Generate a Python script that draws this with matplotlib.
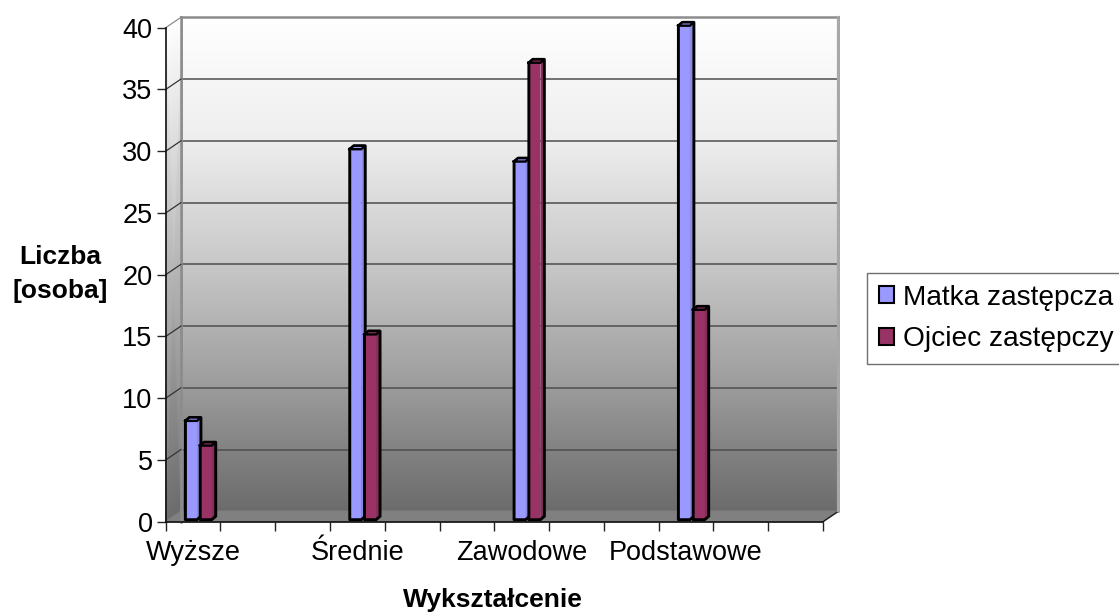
import numpy as np
import matplotlib
matplotlib.use('Agg')
import matplotlib.pyplot as plt
from matplotlib.colors import LinearSegmentedColormap
from matplotlib.patches import Patch

plt.rcParams['font.family'] = ['Liberation Sans', 'DejaVu Sans']

categories = ['Wyższe', 'Średnie', 'Zawodowe', 'Podstawowe']
category_pos = [0.5, 3.5, 6.5, 9.5]
matka = [8, 30, 29, 40]
ojciec = [6, 15, 37, 17]
y_ticks = [0, 5, 10, 15, 20, 25, 30, 35, 40]

W, H = 1119, 613
fig = plt.figure(figsize=(W / 100, H / 100), dpi=100, facecolor='white')


# prostokat w pikselach (y od gory) -> wspolrzedne figury
def px_rect(left, top, right, bottom):
    return [left / W, 1 - bottom / H, (right - left) / W, (bottom - top) / H]


FRONT = (165.7, 27.7, 823, 521.7)
DEPTH_X, DEPTH_Y = 15.3, 10.4
px_x = (FRONT[2] - FRONT[0]) / 12
px_y = (FRONT[3] - FRONT[1]) / 40
dx, dy = DEPTH_X / px_x, DEPTH_Y / px_y

# gradient tla
stops = [(0.0, '#ffffff'), (0.25, '#eeeeee'), (0.5, '#c8c8c8'),
         (0.75, '#9c9c9c'), (0.88, '#828282'), (1.0, '#6c6c6c')]
wall_cmap = LinearSegmentedColormap.from_list('wall', stops)

# tylna sciana
wall = fig.add_axes(px_rect(FRONT[0] + DEPTH_X, FRONT[1] - DEPTH_Y,
                            FRONT[2] + DEPTH_X, FRONT[3] - DEPTH_Y), zorder=1)
wall.imshow(np.linspace(0, 1, 256).reshape(-1, 1), aspect='auto', cmap=wall_cmap,
            extent=(0, 12, 0, 40), origin='upper', zorder=0)
wall.set_xlim(0, 12)
wall.set_ylim(0, 40)
wall.set_xticks([])
wall.set_yticks(y_ticks[1:-1])
wall.tick_params(left=False, labelleft=False)
wall.grid(axis='y', color='#4d4d4d', lw=1.1)
for s in ['left', 'top', 'right']:
    wall.spines[s].set_color('#8c8c8c')
    wall.spines[s].set_linewidth(1.8)
wall.spines['bottom'].set_visible(False)

# glowny uklad
ax = fig.add_axes(px_rect(*FRONT), zorder=2)
ax.patch.set_alpha(0)
ax.set_xlim(0, 12)
ax.set_ylim(0, 40)
for s in ['top', 'right']:
    ax.spines[s].set_visible(False)
for s in ['left', 'bottom']:
    ax.spines[s].set_linewidth(1.2)
    ax.spines[s].set_color('#111111')
ax.set_xticks(range(13))
ax.set_xticklabels([])
ax.set_xticks(category_pos, minor=True)
ax.set_xticklabels(categories, minor=True)
ax.set_yticks(y_ticks)
ax.tick_params(axis='x', which='major', length=6.5, width=1, color='#222222')
ax.tick_params(axis='x', which='minor', length=0, labelsize=19.5, pad=13.5)
ax.tick_params(axis='y', length=6.5, width=1, color='#222222', labelsize=19.5, pad=3)

# lewa sciana i podloga
Xl = np.array([[0, dx], [0, dx]])
Yl = np.array([[0, dy], [40, 40 + dy]])
ax.pcolormesh(Xl, Yl, np.array([[1.0, 1.0], [0.0, 0.0]]), cmap=wall_cmap, shading='gouraud',
              clip_on=False, zorder=0.5)
ax.fill([0, 12, 12 + dx, dx], [0, 0, dy, dy], color='#808080', clip_on=False, zorder=0.6)
ax.plot([12, 12 + dx], [0, dy], color='#222222', lw=1, clip_on=False, zorder=0.7)
ax.plot([12 + dx, 12 + dx], [dy, 40 + dy], color='#a8a8a8', lw=1.6, clip_on=False, zorder=0.7)
ax.plot([dx, dx], [0, 40 + dy], color='#8c8c8c', lw=1.8, clip_on=False, zorder=0.7)
for v in y_ticks[1:]:
    color = '#8c8c8c' if v == 40 else '#333333'
    ax.plot([0, dx], [v, v + dy], color=color, lw=0.9, clip_on=False, zorder=0.8)


# slupki: przod i bok bez linii miedzy nimi, czarny kontur na zewnatrz
def bars_3d(left, values, front, side, zorder):
    w = 11.5 / px_x
    ox, oy = 4.0 / px_x, 3.4 / px_y
    lift = 2.0 / px_y
    for x, v in zip(left, values):
        top = v + lift
        ax.bar(x, v, width=w, bottom=lift, align='edge', color=front, linewidth=0,
               clip_on=False, zorder=zorder)
        ax.fill([x + w, x + w + ox, x + w + ox, x + w], [lift, lift + oy, top + oy, top],
                facecolor=side, edgecolor='none', clip_on=False, zorder=zorder)
        ax.plot([x, x, x + w, x + w + ox, x + w + ox, x + ox, x],
                [top, lift, lift, lift + oy, top + oy, top + oy, top],
                color='black', lw=2.1, clip_on=False, zorder=zorder + 0.1)
        ax.fill([x, x + w, x + w + ox, x + ox], [top, top, top + oy, top + oy],
                facecolor=front, edgecolor='black', lw=1.7, clip_on=False, zorder=zorder + 0.2)


x_pos = np.array(category_pos)
bars_3d(x_pos - 0.14, matka, '#9999ff', '#8b8be0', 4)
bars_3d(x_pos + 0.13, ojciec, '#993366', '#872d5a', 5)

fig.text(60.5 / W, 1 - 274 / H, 'Liczba\n[osoba]', ha='center', va='center', fontsize=19,
         fontweight='bold', linespacing=1.5)
fig.text(493 / W, 1 - 607 / H, 'Wykształcenie', ha='center', va='baseline', fontsize=19,
         fontweight='bold')

handles = [Patch(facecolor='#9999ff', edgecolor='black', lw=1.5),
           Patch(facecolor='#993366', edgecolor='black', lw=1.5)]
fig.legend(handles, ['Matka zastępcza', 'Ojciec zastępczy'], loc='upper left',
           bbox_to_anchor=(867 / W, 1 - 273 / H), fontsize=20.2, frameon=True, fancybox=False,
           edgecolor='#707070', framealpha=1, handlelength=0.55, handleheight=0.55,
           handletextpad=0.3, borderpad=0.42, labelspacing=0.55, borderaxespad=0)

fig.savefig('out.png', dpi=100)
